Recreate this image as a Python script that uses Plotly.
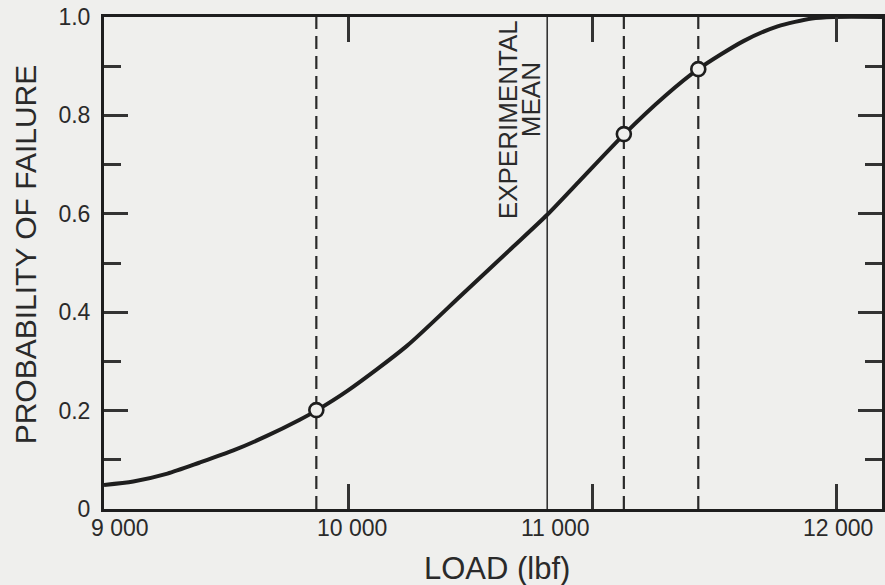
import plotly.graph_objects as go

# ---- data ----
curve_load = [9000, 9120, 9260, 9390, 9530, 9665, 9800, 9870, 10000, 10240,
              10465, 10670, 10816, 10945, 11130, 11300, 11435, 11620, 11760,
              11900, 11990, 12200]
curve_prob = [0.049, 0.056, 0.072, 0.094, 0.119, 0.148, 0.181, 0.200, 0.241, 0.331,
              0.435, 0.530, 0.598, 0.665, 0.761, 0.840, 0.894, 0.951, 0.981,
              0.997, 1.0, 1.0]
marked_load = [9870, 11130, 11435]
marked_prob = [0.201, 0.762, 0.894]
mean_load = 10816
x_tick_vals = [9000, 10000, 11000, 12000]
x_tick_text = ["9 000", "10 000", "11 000", "12 000"]
y_tick_vals = [0, 0.2, 0.4, 0.6, 0.8, 1.0]
y_tick_text = ["0", "0.2", "0.4", "0.6", "0.8", "1.0"]

# ---- styling ----
BG = "#efefed"
INK = "#1e1e1e"
TXT = "#2a2a2a"
FONT = "Liberation Sans, Arial, sans-serif"
label_shift = [16, 4, -37, 2]

fig = go.Figure()

# dashed verticals at the marked loads
for v in marked_load:
    fig.add_trace(go.Scatter(x=[v, v], y=[0, 1], mode="lines",
                             line=dict(color="#2a2a2a", width=2.2, dash="13px,7px"),
                             hoverinfo="skip", showlegend=False))
# experimental mean
fig.add_trace(go.Scatter(x=[mean_load, mean_load], y=[0, 1], mode="lines",
                         line=dict(color="#333333", width=1.6),
                         hoverinfo="skip", showlegend=False))
# probability curve
fig.add_trace(go.Scatter(x=curve_load, y=curve_prob, mode="lines",
                         line=dict(color=INK, width=4, shape="spline", smoothing=0.7),
                         hoverinfo="skip", showlegend=False))
# open circles
fig.add_trace(go.Scatter(x=marked_load, y=marked_prob, mode="markers",
                         marker=dict(size=14, color=BG, line=dict(color=INK, width=2.6)),
                         hoverinfo="skip", showlegend=False))

L, R, T, B = 104, 0, 17, 76
plot_w = 885 - L - R
x_end = 9000 + plot_w / 0.245

fig.update_layout(
    width=885, height=585,
    margin=dict(l=L, r=R, t=T, b=B, pad=0),
    paper_bgcolor=BG, plot_bgcolor=BG,
    font=dict(family=FONT, color=TXT),
    showlegend=False,
    hovermode=False,
)
fig.update_xaxes(range=[9000, x_end], showgrid=False, zeroline=False,
                 showline=True, linecolor=INK, linewidth=3, mirror="ticks",
                 ticks="inside", ticklen=25, tickwidth=2.5, tickcolor="#333333",
                 tickvals=x_tick_vals[1:], showticklabels=False)
fig.update_yaxes(range=[0, 1], showgrid=False, zeroline=False,
                 showline=True, linecolor=INK, linewidth=3, mirror="ticks",
                 ticks="inside", ticklen=24, tickwidth=2.5, tickcolor="#333333",
                 tickvals=y_tick_vals, ticktext=y_tick_text,
                 tickfont=dict(size=23, color=TXT, family=FONT),
                 ticklabelstandoff=6,
                 minor=dict(dtick=0.1, ticks="inside", ticklen=17, tickwidth=2.5,
                            tickcolor="#333333", showgrid=False))

# x tick labels
for v, t, s in zip(x_tick_vals, x_tick_text, label_shift):
    fig.add_annotation(x=v, y=0, xref="x", yref="paper", text=t, showarrow=False,
                       xanchor="center", yanchor="middle", xshift=s, yshift=-19,
                       font=dict(size=23, color=TXT, family=FONT))

# axis titles
fig.add_annotation(x=(499 - L) / plot_w, y=(509 - 568) / 492, xref="paper", yref="paper",
                   text="LOAD (lbf)", showarrow=False, xanchor="center", yanchor="middle",
                   font=dict(size=31, color=TXT, family=FONT))
fig.add_annotation(x=(25 - L) / plot_w, y=(509 - 254) / 492, xref="paper", yref="paper",
                   text="PROBABILITY OF FAILURE", showarrow=False, textangle=-90,
                   xanchor="center", yanchor="middle",
                   font=dict(size=30, color=TXT, family=FONT))

# experimental mean label
NARROW = "Liberation Sans Narrow, Arial Narrow, Liberation Sans, sans-serif"
fig.add_annotation(x=mean_load, y=(509 - 120) / 492, xref="x", yref="paper",
                   text="EXPERIMENTAL", showarrow=False, textangle=-90,
                   xanchor="center", yanchor="middle", xshift=-39,
                   font=dict(size=26, color=TXT, family=NARROW))
fig.add_annotation(x=mean_load, y=(509 - 100) / 492, xref="x", yref="paper",
                   text="MEAN", showarrow=False, textangle=-90,
                   xanchor="center", yanchor="middle", xshift=-16,
                   font=dict(size=26, color=TXT, family=NARROW))

fig.write_html("out.html", config={"displayModeBar": False})
